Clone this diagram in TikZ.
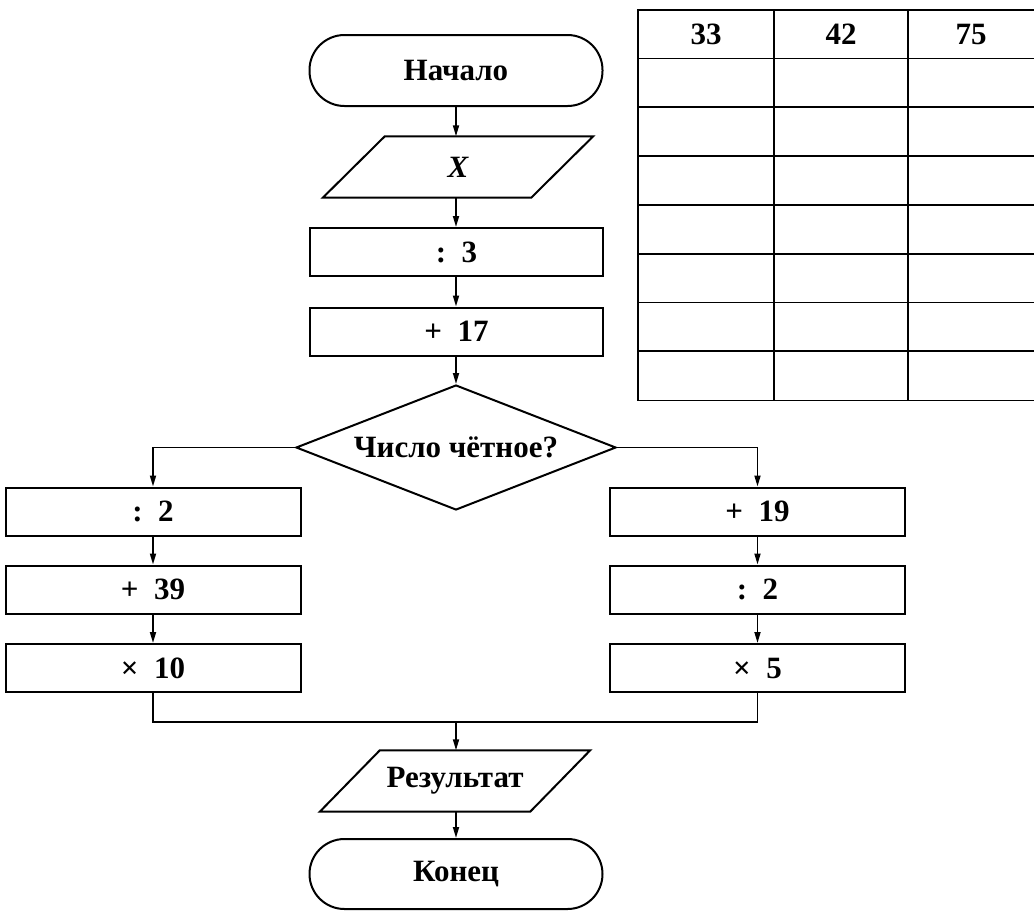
\documentclass[tikz,border=0pt]{standalone}
\usepackage{fontspec}
\setmainfont{Liberation Serif}
\usetikzlibrary{shapes.geometric,arrows.meta}
\begin{document}
\begin{tikzpicture}[x=1pt,y=-1pt,
  every node/.style={font=\fontsize{31}{37}\selectfont\bfseries},
  proc/.style={draw,line width=2pt,minimum width=293pt,minimum height=48pt,inner sep=0pt},
  term/.style={draw,line width=2pt,rounded corners=35pt,minimum width=293pt,minimum height=71pt,inner sep=0pt},
  io/.style={minimum width=270pt,minimum height=61pt,inner sep=0pt},
  dec/.style={draw,diamond,line width=2pt,minimum width=320pt,minimum height=125pt,aspect=2.56,inner sep=0pt},
  arr/.style={line width=1.7pt,-{Triangle[length=11pt,width=6pt]}},
  conn/.style={line width=1.7pt},
  grid/.style={line width=1.7pt}
]
\useasboundingbox (0,0) rectangle (1034,911);

% main column
\node[term] (start) at (456,70.5) {Начало};
\node[io] (x) at (458,167) {\itshape X};
\draw[line width=2pt] ([xshift=62pt]x.north west) -- (x.north east) -- ([xshift=-62pt]x.south east) -- (x.south west) -- cycle;
\node[proc] (d3) at (456.5,252) {:\enspace 3};
\node[proc] (p17) at (456.5,331.5) {+\enspace 17};
\node[dec] (cond) at (456,447.5) {Число чётное?};

% left branch
\node[proc,minimum width=295pt] (l1) at (153,511.5) {:\enspace 2};
\node[proc,minimum width=295pt] (l2) at (153,589.5) {+\enspace 39};
\node[proc,minimum width=295pt] (l3) at (153,668) {×\enspace 10};

% right branch
\node[proc,minimum width=295pt] (r1) at (757.5,511.5) {+\enspace 19};
\node[proc,minimum width=295pt] (r2) at (757.5,589.5) {:\enspace 2};
\node[proc,minimum width=295pt] (r3) at (757.5,668) {×\enspace 5};

% output and end
\node[io] (res) at (455,781) {Результат};
\draw[line width=2pt] ([xshift=60pt]res.north west) -- (res.north east) -- ([xshift=-60pt]res.south east) -- (res.south west) -- cycle;
\node[term,minimum height=70pt] (end) at (456,874) {Конец};

\coordinate (m) at (456,722);

% connectors
\draw[arr] (start.south) -- (x.north -| start.south);
\draw[arr] (x.south -| start.south) -- (d3.north -| start.south);
\draw[arr] (d3.south -| start.south) -- (p17.north -| start.south);
\draw[arr] (p17.south -| start.south) -- (cond.north);
\draw[arr] (cond.west) -| (l1.north);
\draw[arr] (cond.east) -| (r1.north);
\draw[arr] (l1) -- (l2);
\draw[arr] (l2) -- (l3);
\draw[arr] (r1) -- (r2);
\draw[arr] (r2) -- (r3);
\draw[conn] (l3.south) |- (m) -| (r3.south);
\draw[arr] (m) -- (res.north -| m);
\draw[arr] (res.south -| m) -- (end.north);

% table
\draw[grid] (1034,10) -- (638,10) -- (638,400.5) -- (1034,400.5);
\foreach \yy in {58.5,107.3,156.1,204.9,253.7,302.5,351.3}
  \draw[grid] (638,\yy) -- (1034,\yy);
\draw[grid] (774,10) -- (774,400.5);
\draw[grid] (908,10) -- (908,400.5);
\node (h1) at (706,34) {33};
\node (h2) at (841,34) {42};
\node (h3) at (971,34) {75};
\end{tikzpicture}
\end{document}
